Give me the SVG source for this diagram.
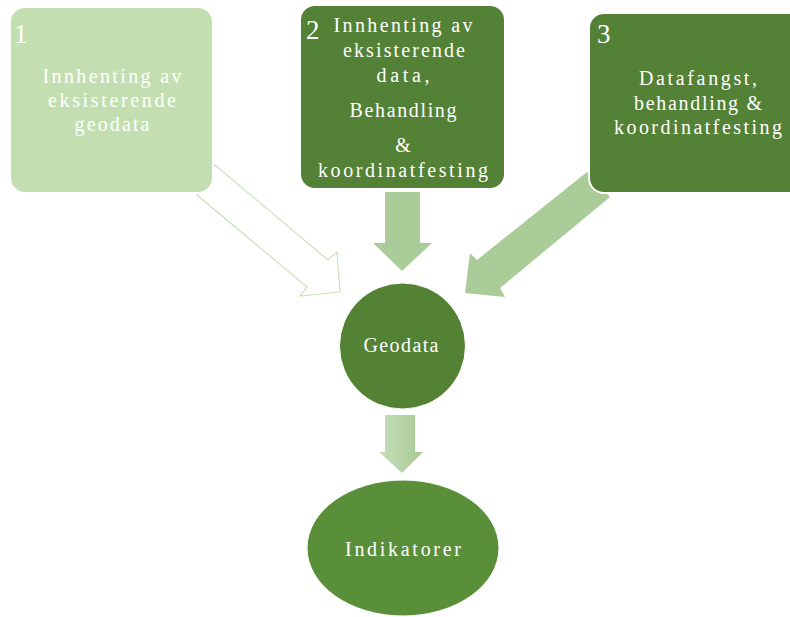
<svg xmlns="http://www.w3.org/2000/svg" width="790" height="617" viewBox="0 0 790 617">
  <defs>
    <style>
      .txt { font-family: "Liberation Serif", "DejaVu Serif", serif; font-size: 20px; fill: #ffffff; text-anchor: middle; }
      .num { font-family: "Liberation Serif", "DejaVu Serif", serif; font-size: 27px; fill: #ffffff; }
      .dark { fill: #538135; stroke: #ffffff; stroke-width: 2; }
      .light { fill: #c3dfb2; stroke: #ffffff; stroke-width: 2; }
      .flow { fill: #a9cc98; stroke: none; }
    </style>
    <linearGradient id="gradDown" x1="0" y1="0" x2="1" y2="0">
      <stop offset="0" stop-color="#c7e0ba"/>
      <stop offset="1" stop-color="#a6c994"/>
    </linearGradient>
  </defs>

  <rect width="790" height="617" fill="#ffffff"/>

  <!-- connectors -->
  <g id="connectors">
    <!-- hollow arrow from box 1 -->
    <polygon points="215,165 328,260 337,252 340,292 300,296 307,287 197,195" fill="#ffffff" stroke="#c9e3bb" stroke-width="1.2" stroke-linejoin="miter"/>
    <!-- block arrow from box 2 -->
    <polygon class="flow" points="385,192 420,192 420,243 432,243 402,271 373,243 385,243"/>
    <!-- block arrow from box 3 -->
    <polygon class="flow" points="587,172 610,197 500,288 505,297 465,293 470,253 477,260"/>
    <!-- arrow from Geodata to Indikatorer -->
    <polygon fill="url(#gradDown)" points="385,415 415,415 415,452 423,452 402,473 379,452 385,452"/>
  </g>

  <g id="box1">
    <rect class="light" x="10" y="7" width="203" height="186" rx="15"/>
    <text class="num" x="14" y="43">1</text>
    <text class="txt" x="112" y="83" textLength="139" lengthAdjust="spacing">Innhenting av</text>
    <text class="txt" x="112" y="107" textLength="128" lengthAdjust="spacing">eksisterende</text>
    <text class="txt" x="112" y="131" textLength="75" lengthAdjust="spacing">geodata</text>
  </g>

  <g id="box2">
    <rect class="dark" x="300" y="5" width="205" height="184" rx="15"/>
    <text class="num" x="306" y="39">2</text>
    <text class="txt" x="403" y="32" textLength="139" lengthAdjust="spacing">Innhenting av</text>
    <text class="txt" x="404" y="57" textLength="122" lengthAdjust="spacing">eksisterende</text>
    <text class="txt" x="403" y="82" textLength="53" lengthAdjust="spacing">data,</text>
    <text class="txt" x="403" y="117" textLength="107" lengthAdjust="spacing">Behandling</text>
    <text class="txt" x="403" y="152">&amp;</text>
    <text class="txt" x="403" y="177" textLength="170" lengthAdjust="spacing">koordinatfesting</text>
  </g>

  <g id="box3">
    <rect class="dark" x="589" y="13" width="220" height="180" rx="15"/>
    <text class="num" x="597" y="43">3</text>
    <text class="txt" x="698" y="85" textLength="118" lengthAdjust="spacing">Datafangst,</text>
    <text class="txt" x="698" y="110" textLength="128" lengthAdjust="spacing">behandling &amp;</text>
    <text class="txt" x="698" y="134" textLength="168" lengthAdjust="spacing">koordinatfesting</text>
  </g>

  <g id="geodata">
    <circle cx="402.5" cy="346" r="63" fill="#548235" stroke="#ffffff" stroke-width="1"/>
    <text class="txt" x="401" y="352" textLength="75" lengthAdjust="spacing">Geodata</text>
  </g>

  <g id="indikatorer">
    <ellipse cx="403" cy="548" rx="96" ry="68" fill="#5a8f3a" stroke="#ffffff" stroke-width="1"/>
    <text class="txt" x="403" y="556" textLength="116" lengthAdjust="spacing">Indikatorer</text>
  </g>
</svg>
